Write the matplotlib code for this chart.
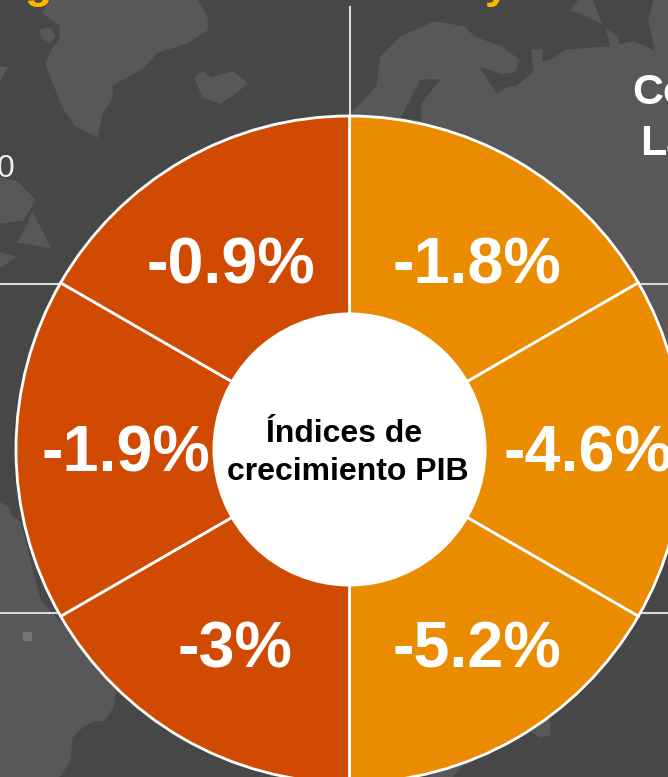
import matplotlib
matplotlib.use("Agg")
import matplotlib.pyplot as plt
from matplotlib.patches import Circle, Polygon, Rectangle

plt.rcParams["font.family"] = ["Liberation Sans", "DejaVu Sans"]

WIDTH, HEIGHT = 668, 777

# clockwise from the top
gdp_labels = ["-1.8%", "-4.6%", "-5.2%", "-3%", "-1.9%", "-0.9%"]
slice_sizes = [1, 1, 1, 1, 1, 1]
slice_colors = ["#EB8C00", "#EB8C00", "#EB8C00", "#D04A02", "#D04A02", "#D04A02"]
center_lines = ["Índices de", "crecimiento PIB"]

# label anchors in picture pixels (center x, baseline y)
label_xy = [(477, 283), (588, 472), (477, 667), (235, 667), (126, 472), (231, 283)]
center_xy = [(344, 442), (348, 480)]

SEA = "#474747"
LAND = "#58585A"
GUIDE = "#D9D9D9"

# background map, picture pixels
land_shapes = [
    # greenland
    [(50, 0), (43, 13), (60, 25), (60, 40), (52, 50), (46, 63), (50, 75), (55, 87), (63, 107),
     (75, 125), (97, 137), (102, 113), (112, 97), (112, 85), (125, 78), (143, 68), (157, 52),
     (187, 43), (207, 30), (207, 17), (197, 0)],
    [(40, 30), (50, 28), (55, 36), (50, 42), (42, 38)],
    # iceland
    [(195, 78), (203, 72), (210, 78), (233, 72), (247, 83), (233, 95), (220, 103), (203, 97), (198, 85)],
    # canada, left edge
    [(0, 178), (17, 182), (35, 200), (23, 220), (0, 223)],
    [(32, 213), (43, 233), (50, 248), (37, 245), (18, 242), (27, 227)],
    [(0, 67), (7, 68), (0, 80)],
    [(0, 253), (15, 257), (0, 267)],
    # europe and russia
    [(350, 115), (377, 87), (381, 57), (401, 37), (434, 22), (464, 27), (474, 37), (501, 47),
     (519, 60), (514, 72), (501, 73), (477, 65), (487, 80), (497, 95), (507, 88), (516, 87),
     (534, 72), (532, 50), (542, 50), (541, 63), (551, 60), (567, 50), (611, 47), (607, 30),
     (617, 37), (619, 45), (634, 42), (656, 52), (649, 20), (654, 0), (668, 0), (668, 400),
     (600, 400), (350, 300)],
    [(571, 10), (579, 0), (592, 0), (601, 23), (584, 15)],
    # africa and south america, lower left
    [(0, 503), (8, 507), (12, 517), (20, 522), (40, 600), (120, 690), (115, 693), (113, 707),
     (104, 720), (92, 721), (81, 728), (72, 737), (70, 760), (62, 773), (58, 777), (0, 777)],
    # lower right
    [(548, 710), (550, 735), (540, 737), (530, 730), (525, 715)],
    [(475, 750), (452, 777), (430, 777)],
]
sea_shapes = [
    [(421, 80), (439, 80), (421, 103), (421, 120), (402, 117), (409, 103)],
]

fig = plt.figure(figsize=(WIDTH / 100, HEIGHT / 100), dpi=100, facecolor=SEA)

bg = fig.add_axes([0, 0, 1, 1])
bg.set_xlim(0, WIDTH)
bg.set_ylim(HEIGHT, 0)
bg.axis("off")
for shape in land_shapes:
    bg.add_patch(Polygon(shape, closed=True, facecolor=LAND, edgecolor=LAND, lw=1, joinstyle="round"))
for shape in sea_shapes:
    bg.add_patch(Polygon(shape, closed=True, facecolor=SEA, edgecolor=SEA, lw=1, joinstyle="round"))
bg.add_patch(Rectangle((23, 632), 9, 9, facecolor="#757575", edgecolor="none"))

bg.plot([350, 350], [7, 118], color=GUIDE, lw=1.5)
for y in [284, 613]:
    bg.plot([0, WIDTH], [y, y], color=GUIDE, lw=1.5)

# cut-off text from the rest of the slide
bg.text(38, -2, "g", color="#FFB600", fontsize=32, fontweight="bold", ha="center", va="baseline")
bg.text(497, -2, "y", color="#FFB600", fontsize=32, fontweight="bold", ha="center", va="baseline")
bg.text(14, 177, "0", color="#EEEEEE", fontsize=23, ha="right", va="baseline")
bg.text(632, 104, "Co", color="white", fontsize=31, fontweight="bold", ha="left", va="baseline")
bg.text(640, 155, "La", color="white", fontsize=31, fontweight="bold", ha="left", va="baseline")

# pie sits in its own axes so the library does the wedges
cx, cy, radius = 349.5, 449.5, 333.5
pad = 1.01
side = 2 * radius * pad
ax = fig.add_axes([(cx - side / 2) / WIDTH, (HEIGHT - cy - side / 2) / HEIGHT, side / WIDTH, side / HEIGHT])
ax.patch.set_alpha(0)
ax.pie(slice_sizes, colors=slice_colors, startangle=90, counterclock=False, radius=1,
       wedgeprops={"edgecolor": "white", "linewidth": 2})
ax.set_xlim(-pad, pad)
ax.set_ylim(-pad, pad)
ax.add_patch(Circle((0, 0), 137 / radius, facecolor="white", edgecolor="none", zorder=5))

top = fig.add_axes([0, 0, 1, 1])
top.set_xlim(0, WIDTH)
top.set_ylim(HEIGHT, 0)
top.axis("off")
for label, (x, y) in zip(gdp_labels, label_xy):
    top.text(x, y, label, color="white", fontsize=46.5, fontweight="bold", ha="center", va="baseline")
for line, (x, y) in zip(center_lines, center_xy):
    top.text(x, y, line, color="black", fontsize=23, fontweight="bold", ha="center", va="baseline")

fig.savefig("out.png", dpi=100, facecolor=SEA)
